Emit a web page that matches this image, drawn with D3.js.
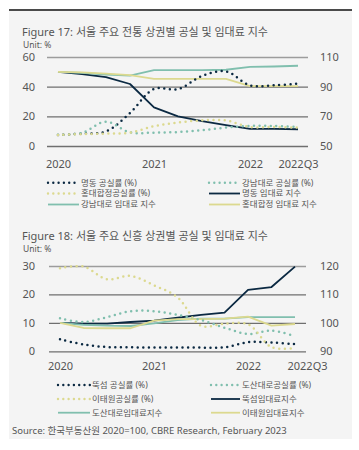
<!DOCTYPE html>
<html>
<head>
<meta charset="utf-8">
<script src="https://cdn.jsdelivr.net/npm/d3@7"></script>
<style>
  html, body { margin: 0; padding: 0; background: #ffffff; }
  svg { display: block; }
  text { font-family: "Noto Sans", "Noto Sans CJK KR", sans-serif; fill: #555; }
</style>
</head>
<body>
<svg id="chart" width="359" height="450"></svg>
<script>
// ---------- data ----------
const quarters = ["2020Q1","2020Q2","2020Q3","2020Q4","2021Q1","2021Q2","2021Q3","2021Q4","2022Q1","2022Q2","2022Q3"];
const xTickValues = ["2020Q1","2021Q1","2022Q1","2022Q3"];
const xTickLabels = ["2020","2021","2022","2022Q3"];

// Figure 17
const fig17Title = "Figure 17: 서울 주요 전통 상권별 공실 및 임대료 지수";
const fig17LeftTicks = [0, 20, 40, 60];
const fig17RightTicks = [50, 70, 90, 110];
const myeongdongVacancy = [7.4, 8.4, 9.8, 22.3, 38.4, 38.3, 47.2, 50.3, 40.9, 40.9, 42.1];
const gangnamVacancy    = [7.6, 8.8, 16.4, 9.2, 9.0, 9.4, 10.6, 12.4, 13.5, 13.5, 12.8];
const hongdaeVacancy    = [7.5, 8.0, 8.4, 9.0, 13.4, 15.8, 17.3, 17.2, 12.8, 12.8, 12.4];
const myeongdongRent    = [100, 98.5, 96.5, 91.8, 76.0, 70.0, 66.8, 64.0, 61.5, 61.5, 61.3];
const gangnamRent       = [100, 99.3, 98.2, 97.5, 101.2, 101.2, 101.2, 101.4, 103.4, 103.6, 104.1];
const hongdaeRent       = [100, 99.6, 98.8, 97.8, 95.2, 95.2, 95.2, 95.2, 90.3, 90.3, 90.3];
const fig17Names = ["명동 공실률 (%)", "강남대로 공실률 (%)", "홍대합정공실률 (%)", "명동 임대료 지수", "강남대로 임대료 지수", "홍대합정 임대료 지수"];

// Figure 18
const fig18Title = "Figure 18:  서울 주요 신흥 상권별 공실 및 임대료 지수";
const fig18LeftTicks = [0, 10, 20, 30];
const fig18RightTicks = [90, 100, 110, 120];
const ttukseomVacancy = [4.2, 2.4, 1.5, 1.4, 1.3, 1.3, 1.3, 1.4, 3.2, 3.1, 2.5];
const dosanVacancy    = [11.6, 10.3, 12.0, 14.1, 14.1, 12.8, 11.0, 8.3, 6.1, 7.3, 5.3];
const itaewonVacancy  = [29.2, 29.8, 25.3, 26.5, 23.2, 19.0, 9.0, 9.7, 9.5, 1.5, 1.1];
const ttukseomRent    = [100, 99.7, 99.7, 100.3, 100.8, 101.8, 102.8, 103.6, 111.6, 112.6, 119.8];
const dosanRent       = [100, 99.3, 99.0, 98.9, 99.8, 101.0, 101.5, 101.5, 102.0, 102.0, 102.0];
const itaewonRent     = [100, 98.2, 98.1, 98.1, 100.8, 101.3, 101.3, 101.5, 102.2, 99.0, 99.6];
const fig18Names = ["뚝섬 공실률 (%)", "도산대로공실률 (%)", "이태원공실률 (%)", "뚝섬임대료지수", "도산대로임대료지수", "이태원임대료지수"];

const sourceText = "Source: 한국부동산원 2020=100, CBRE Research, February 2023";

// ---------- styles ----------
const NAVY = "#0b2942", TEAL = "#80bfae", YELLOW = "#dcd98f";

const svg = d3.select("#chart");

// panel
svg.append("rect").attr("x", 9).attr("y", 10).attr("width", 343).attr("height", 429).attr("fill", "#f4f4f4");
svg.append("line").attr("x1", 9).attr("x2", 352).attr("y1", 10).attr("y2", 10)
  .attr("stroke", "#4a4a4a").attr("stroke-width", 2);

function drawChart(cfg) {
  const g = svg.append("g");
  // title
  g.append("text").attr("x", 22).attr("y", cfg.titleY).attr("font-size", 11).attr("fill", "#4d4d4d").text(cfg.title);
  g.append("text").attr("x", 23).attr("y", cfg.titleY + 12.5).attr("font-size", 8.5).text("Unit: %");

  const x = d3.scalePoint().domain(quarters).range(cfg.xRange);
  const yL = d3.scaleLinear().domain(cfg.leftDomain).range([cfg.yBottom, cfg.yTop]);
  const yR = d3.scaleLinear().domain(cfg.rightDomain).range([cfg.yBottom, cfg.yTop]);

  // gridlines
  const grid = g.append("g").attr("transform", `translate(${cfg.gridX[1]},0)`)
    .call(d3.axisLeft(yL).tickValues(cfg.leftTicks).tickSize(cfg.gridX[1] - cfg.gridX[0]).tickFormat(""));
  grid.select(".domain").remove();
  grid.selectAll(".tick line")
    .attr("stroke", d => d === cfg.leftDomain[1] ? "#9c9c9c" : "#6f6f6f")
    .attr("stroke-width", 1.3);

  // left axis
  const la = g.append("g").attr("transform", "translate(35,0)")
    .call(d3.axisLeft(yL).tickValues(cfg.leftTicks).tickSize(0).tickPadding(0));
  la.select(".domain").remove();
  la.selectAll("text").attr("font-size", 11).attr("fill", "#555").style("font-family", "Noto Sans");

  // right axis
  const ra = g.append("g").attr("transform", "translate(320,0)")
    .call(d3.axisRight(yR).tickValues(cfg.rightTicks).tickSize(0).tickPadding(0));
  ra.select(".domain").remove();
  ra.selectAll("text").attr("font-size", 11).attr("fill", "#555").style("font-family", "Noto Sans");

  // x axis
  const xa = g.append("g").attr("transform", `translate(0,${cfg.yBottom})`)
    .call(d3.axisBottom(x).tickValues(xTickValues).tickSize(0).tickPadding(cfg.xPad)
      .tickFormat(d => xTickLabels[xTickValues.indexOf(d)]));
  xa.select(".domain").remove();
  xa.selectAll("text").attr("font-size", 11).attr("fill", "#555").style("font-family", "Noto Sans")
    .attr("dx", d => d === "2022Q3" ? cfg.lastDx : 0);

  const lineL = d3.line().x((d, i) => x(quarters[i])).y(d => yL(d)).curve(d3.curveCatmullRom.alpha(0.5));
  const lineR = d3.line().x((d, i) => x(quarters[i])).y(d => yR(d));

  const series = cfg.series;
  // rent lines (solid)
  series.filter(s => s.axis === "R").forEach(s => {
    g.append("path").datum(s.values).attr("d", lineR).attr("fill", "none")
      .attr("stroke", s.color).attr("stroke-width", 1.8).attr("stroke-linejoin", "round");
  });
  // vacancy lines (dotted)
  series.filter(s => s.axis === "L").forEach(s => {
    g.append("path").datum(s.values).attr("d", lineL).attr("fill", "none")
      .attr("stroke", s.color).attr("stroke-width", 2.5).attr("stroke-linecap", "round")
      .attr("stroke-dasharray", "0,5.6");
  });

  // legend
  cfg.legendOrder.forEach((idx, k) => {
    const s = series[idx];
    const col = k % 2, row = Math.floor(k / 2);
    const lx = cfg.legendCols[col];
    const ly = cfg.legendRows[row];
    const ln = g.append("line").attr("x1", lx[0]).attr("x2", lx[1]).attr("y1", ly).attr("y2", ly)
      .attr("stroke", s.color).attr("fill", "none");
    if (s.axis === "L") {
      ln.attr("stroke-width", 2.4).attr("stroke-linecap", "round").attr("stroke-dasharray", "0,5.3");
    } else {
      ln.attr("stroke-width", 1.8);
    }
    g.append("text").attr("x", lx[1] + 2).attr("y", ly).attr("dy", "0.35em")
      .attr("font-size", 8.5).attr("fill", "#555").text(s.name);
  });
}

drawChart({
  title: fig17Title, titleY: 35.5,
  xRange: [58, 298], gridX: [47, 308],
  leftDomain: [0, 60], rightDomain: [50, 110], leftTicks: fig17LeftTicks, rightTicks: fig17RightTicks,
  yTop: 57, yBottom: 146, xPad: 14, lastDx: 0,
  series: [
    { name: fig17Names[0], values: myeongdongVacancy, axis: "L", color: NAVY },
    { name: fig17Names[1], values: gangnamVacancy, axis: "L", color: TEAL },
    { name: fig17Names[2], values: hongdaeVacancy, axis: "L", color: YELLOW },
    { name: fig17Names[3], values: myeongdongRent, axis: "R", color: NAVY },
    { name: fig17Names[4], values: gangnamRent, axis: "R", color: TEAL },
    { name: fig17Names[5], values: hongdaeRent, axis: "R", color: YELLOW }
  ],
  legendOrder: [0, 1, 2, 3, 4, 5],
  legendCols: [[48, 79], [209, 240]],
  legendRows: [182.7, 193.5, 204.5]
});

drawChart({
  title: fig18Title, titleY: 239.5,
  xRange: [60, 295], gridX: [49, 306],
  leftDomain: [0, 30], rightDomain: [90, 120], leftTicks: fig18LeftTicks, rightTicks: fig18RightTicks,
  yTop: 266, yBottom: 351.3, xPad: 10.5, lastDx: 12,
  series: [
    { name: fig18Names[0], values: ttukseomVacancy, axis: "L", color: NAVY },
    { name: fig18Names[1], values: dosanVacancy, axis: "L", color: TEAL },
    { name: fig18Names[2], values: itaewonVacancy, axis: "L", color: YELLOW },
    { name: fig18Names[3], values: ttukseomRent, axis: "R", color: NAVY },
    { name: fig18Names[4], values: dosanRent, axis: "R", color: TEAL },
    { name: fig18Names[5], values: itaewonRent, axis: "R", color: YELLOW }
  ],
  legendOrder: [0, 1, 2, 3, 4, 5],
  legendCols: [[58, 90], [211, 240]],
  legendRows: [385, 399, 412.7]
});

svg.append("text").attr("x", 12).attr("y", 433.5).attr("font-size", 9.5).attr("fill", "#555").text(sourceText);
</script>
</body>
</html>
